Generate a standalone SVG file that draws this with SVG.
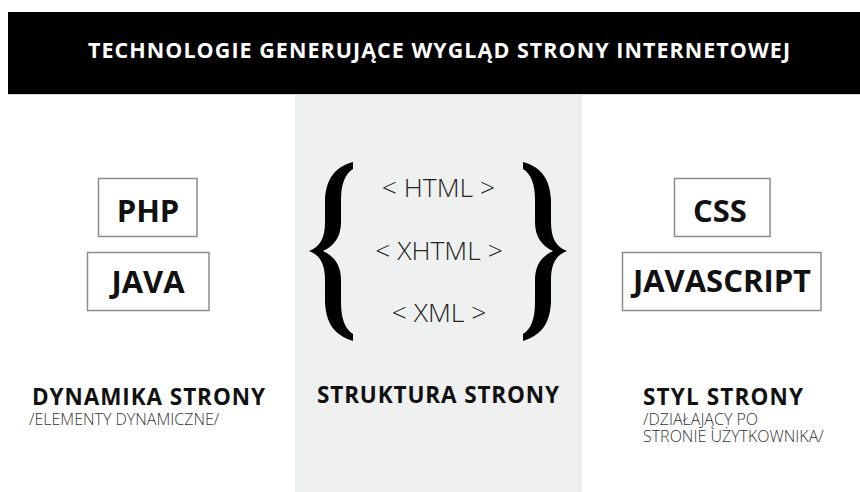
<svg xmlns="http://www.w3.org/2000/svg" xmlns:xlink="http://www.w3.org/1999/xlink" width="860" height="492" viewBox="0 0 860 492">
<style>
.box{fill:#ffffff;stroke:#8c8c8c;stroke-width:1.5}
.tech{font-family:"Open Sans","Liberation Sans",sans-serif;font-weight:700;font-size:31px;fill:#111;text-anchor:middle}
.tag{font-family:"Open Sans","Liberation Sans",sans-serif;font-weight:300;font-size:26.5px;fill:#222;text-anchor:middle}
.head{font-family:"Open Sans","Liberation Sans",sans-serif;font-weight:700;font-size:22.5px;fill:#111}
.sub{font-family:"Open Sans","Liberation Sans",sans-serif;font-weight:300;font-size:16px;fill:#333}
.brace{fill:#000}
</style>
<defs>
<path id="lbrace" d="M353,162 C334,167 326,180 325,200 L325,222 C325,238 320,247 309,251 C320,255 325,264 325,280 L325,302 C326,323 334,335 353,341 L353,334 C345,329 341,319 341,302 L341,280 C341,265 334,256 323,251 C334,246 341,237 341,222 L341,200 C341,184 345,174 353,169 Z"/>
</defs>
<rect x="0" y="0" width="860" height="492" fill="#ffffff"/>
<rect x="295" y="95" width="287" height="397" fill="#eff0f0"/>
<g id="title">
<rect x="8" y="12" width="852" height="82" fill="#000"/>
<rect x="8" y="94" width="852" height="1" fill="#d6d6d6"/>
<text x="88" y="58" font-family="'Open Sans','Liberation Sans',sans-serif" font-weight="700" font-size="21.5" fill="#fff" textLength="702" lengthAdjust="spacing">TECHNOLOGIE GENERUJĄCE WYGLĄD STRONY INTERNETOWEJ</text>
</g>
<g id="php"><rect class="box" x="98.5" y="178.5" width="98.5" height="58"/><text class="tech" x="148" y="222">PHP</text></g>
<g id="java"><rect class="box" x="87.5" y="252.5" width="121.5" height="58"/><text class="tech" x="148" y="293">JAVA</text></g>
<g id="css"><rect class="box" x="674.5" y="178.5" width="95.5" height="58"/><text class="tech" x="720" y="221.5">CSS</text></g>
<g id="javascript"><rect class="box" x="622.5" y="252.5" width="198.5" height="58"/><text class="tech" x="722" y="291.5">JAVASCRIPT</text></g>
<g id="braces">
<use xlink:href="#lbrace" class="brace"/>
<use xlink:href="#lbrace" class="brace" transform="matrix(-1,0,0,1,876,0)"/>
</g>
<g id="html"><text class="tag" x="438.5" y="197">&lt; HTML &gt;</text></g>
<g id="xhtml"><text class="tag" x="439" y="260">&lt; XHTML &gt;</text></g>
<g id="xml"><text class="tag" x="439" y="322">&lt; XML &gt;</text></g>
<g id="dynamika">
<text class="head" x="32" y="405" textLength="233" lengthAdjust="spacing">DYNAMIKA STRONY</text>
<text class="sub" x="29" y="425">/ELEMENTY DYNAMICZNE/</text>
</g>
<g id="struktura">
<text class="head" x="317" y="403" textLength="242" lengthAdjust="spacing">STRUKTURA STRONY</text>
</g>
<g id="styl">
<text class="head" x="643" y="405" textLength="160" lengthAdjust="spacing">STYL STRONY</text>
<text class="sub" x="643" y="425">/DZIAŁAJĄCY PO</text>
<text class="sub" x="643" y="442">STRONIE UŻYTKOWNIKA/</text>
</g>
</svg>
